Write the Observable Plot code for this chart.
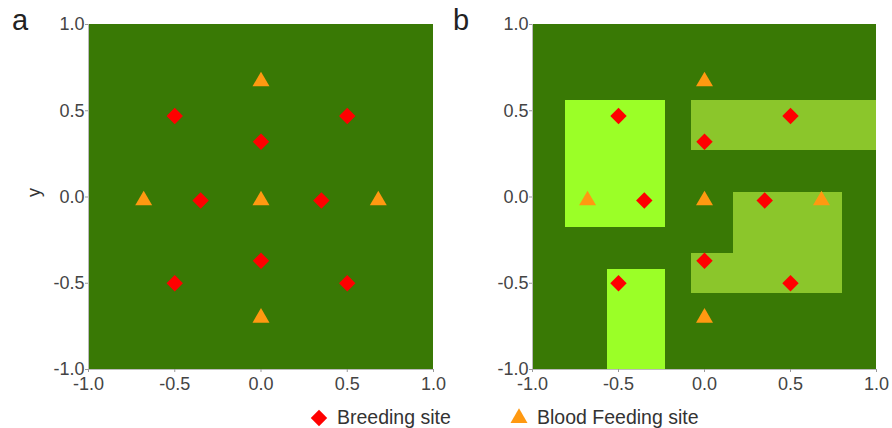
<!DOCTYPE html>
<html>
<head>
<meta charset="utf-8">
<script src="https://cdn.jsdelivr.net/npm/d3@7"></script>
<script src="https://cdn.jsdelivr.net/npm/@observablehq/plot@0.6"></script>
<style>
  body { margin: 0; background: #fff; font-family: "Liberation Sans", Arial, sans-serif; }
  #wrap { position: relative; width: 892px; height: 428px; overflow: hidden; }
  .panel { position: absolute; top: 0; }
  .plabel { position: absolute; font-size: 29px; color: #222; line-height: 1; }
  #legend { position: absolute; top: 404px; left: 0; width: 892px; height: 26px; font-size: 19.5px; color: #333; }
  .li { position: absolute; top: 0; display: flex; align-items: center; height: 26px; }
</style>
</head>
<body>
<div id="wrap">
  <div class="plabel" style="left:12px; top:6px;">a</div>
  <div class="plabel" style="left:453px; top:6px;">b</div>
  <div id="pa" class="panel" style="left:0px;"></div>
  <div id="pb" class="panel" style="left:446px;"></div>
  <div id="legend"></div>
</div>
<script>
// Sites
const breedX = [-0.5, 0.5, 0, -0.35, 0.35, 0, -0.5, 0.5];
const breedY = [0.47, 0.47, 0.32, -0.02, -0.02, -0.37, -0.5, -0.5];
const feedX = [0, -0.68, 0, 0.68, 0];
const feedY = [0.67, -0.02, -0.02, -0.02, -0.7];

// Habitat patches in panel b
const patchX1 = [-0.81, -0.565, -0.075, 0.17, -0.075];
const patchX2 = [-0.225, -0.225, 1.0, 0.8, 0.17];
const patchY1 = [-0.175, -1.0, 0.27, -0.56, -0.56];
const patchY2 = [0.56, -0.42, 0.56, 0.025, -0.325];
const patchType = ["light", "light", "medium", "medium", "medium"];

const ticks = [-1, -0.5, 0, 0.5, 1];

const dark = "#397905";
const patchColor = {light: "#9BFF27", medium: "#8BC62B"};
const red = "#FF0000";
const orange = "#FF9911";

const breed = breedX.map((x, i) => ({x, y: breedY[i]}));
const feed = feedX.map((x, i) => ({x, y: feedY[i]}));
const patches = patchX1.map((x1, i) => ({x1, x2: patchX2[i], y1: patchY1[i], y2: patchY2[i], t: patchType[i]}));

function panel(withPatches, withLabel, mLeft, mRight) {
  const marks = [
    Plot.rect([{x1: -1, x2: 1, y1: -1, y2: 1}], {x1: "x1", x2: "x2", y1: "y1", y2: "y2", fill: dark, inset: 0}),
  ];
  if (withPatches) {
    marks.push(Plot.rect(patches, {x1: "x1", x2: "x2", y1: "y1", y2: "y2", fill: d => patchColor[d.t], inset: 0, shapeRendering: "crispEdges"}));
  }
  marks.push(
    Plot.ruleX([-1], {stroke: "#bbb", strokeWidth: 1}),
    Plot.ruleY([-1], {stroke: "#bbb", strokeWidth: 1}),
    Plot.axisX({ticks, tickFormat: d => d.toFixed(1), tickSize: 3, tickPadding: 5, stroke: "#999", fill: "#444", label: null, fontSize: 18}),
    Plot.axisY({ticks, tickFormat: d => d.toFixed(1), tickSize: 3, tickPadding: 1, stroke: "#999", fill: "#444", label: null, fontSize: 18}),
    Plot.dot(breed, {x: "x", y: "y", symbol: "diamond2", r: 7.4, fill: red, stroke: "none"}),
    Plot.dot(feed, {x: "x", y: "y", symbol: "triangle", r: 6.3, fill: orange, stroke: "none"})
  );
  if (withLabel) {
    marks.push(Plot.text(["y"], {frameAnchor: "left", dx: -54, rotate: -90, fontSize: 18, fill: "#333", text: d => d}));
  }
  return Plot.plot({
    width: 446,
    height: 400,
    marginLeft: mLeft,
    marginRight: mRight,
    marginTop: 24,
    marginBottom: 31,
    x: {domain: [-1, 1]},
    y: {domain: [-1, 1]},
    style: {fontFamily: "Liberation Sans, Arial, sans-serif", fontSize: "18px", background: "transparent", overflow: "visible"},
    marks
  });
}

document.getElementById("pa").appendChild(panel(false, true, 88, 13));
document.getElementById("pb").appendChild(panel(true, false, 86, 16));

// Legend
const legendItems = [
  {label: "Breeding site", symbol: d3.symbolDiamond2, size: Math.PI * 7.4 * 7.4, color: red, left: 309},
  {label: "Blood Feeding site", symbol: d3.symbolTriangle, size: Math.PI * 6.3 * 6.3, color: orange, left: 509}
];
const leg = d3.select("#legend");
legendItems.forEach(it => {
  const item = leg.append("div").attr("class", "li").style("left", it.left + "px");
  const s = item.append("svg").attr("width", 20).attr("height", 20).style("margin-right", "8px");
  s.append("path").attr("transform", "translate(10,11)").attr("d", d3.symbol(it.symbol, it.size)()).attr("fill", it.color);
  item.append("span").text(it.label);
});
</script>
</body>
</html>
